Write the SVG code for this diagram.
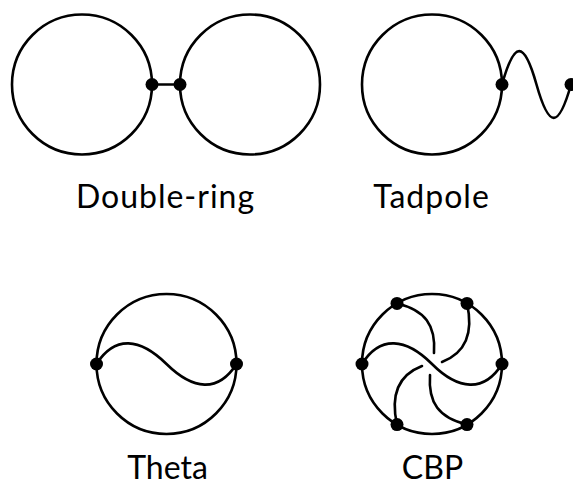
<svg xmlns="http://www.w3.org/2000/svg" width="573" height="486" viewBox="0 0 573 486">
<style>
.ln{fill:none;stroke:#000;stroke-width:2.6;stroke-linecap:round}
.dot{fill:#000}
.lb{font-family:Lato,"Open Sans",sans-serif;font-size:32px;fill:#000;text-anchor:middle}
.wide{letter-spacing:1px}
</style>
<rect width="573" height="486" fill="#fff"/>
<g id="double-ring">
<circle class="ln" cx="82" cy="84.5" r="70"/>
<circle class="ln" cx="250" cy="84.5" r="70"/>
<line class="ln" x1="152" y1="84.5" x2="180" y2="84.5"/>
<circle class="dot" cx="152" cy="84.5" r="6.5"/>
<circle class="dot" cx="180" cy="84.5" r="6.5"/>
<text class="lb wide" x="165.5" y="208">Double-ring</text>
</g>
<g id="tadpole">
<circle class="ln" cx="432" cy="84.5" r="70"/>
<path class="ln" d="M502,84.5 C514.5,40 524,40 536.5,84.5 C549,129 558.5,129 571,84.5"/>
<circle class="dot" cx="502" cy="84.5" r="6.5"/>
<circle class="dot" cx="571" cy="84.5" r="6.5"/>
<text class="lb wide" x="431.5" y="208">Tadpole</text>
</g>
<g id="theta">
<circle class="ln" cx="166.5" cy="364" r="70"/>
<path class="ln" d="M96.5,364 C115,335 140,338 166.5,364 C193,390 218,393 236.5,364"/>
<circle class="dot" cx="96.5" cy="364" r="6.5"/>
<circle class="dot" cx="236.5" cy="364" r="6.5"/>
<text class="lb" x="167.5" y="479">Theta</text>
</g>
<g id="cbp">
<circle class="ln" cx="432" cy="364" r="70"/>
<path class="ln" d="M362,364 C380,335 406,338 432,364 C458,390 484,393 502,364"/>
<path class="ln" d="M397,303.4 C425,310 436,325 434,353"/>
<path class="ln" d="M467,424.6 C439,418 428,403 430,375"/>
<path class="ln" d="M467,303.4 C473,330 468,352 442,362"/>
<path class="ln" d="M397,424.6 C391,398 396,376 422,366"/>
<circle class="dot" cx="362" cy="364" r="6.5"/>
<circle class="dot" cx="502" cy="364" r="6.5"/>
<circle class="dot" cx="397" cy="303.4" r="6.5"/>
<circle class="dot" cx="467" cy="303.4" r="6.5"/>
<circle class="dot" cx="397" cy="424.6" r="6.5"/>
<circle class="dot" cx="467" cy="424.6" r="6.5"/>
<text class="lb" x="432.5" y="479">CBP</text>
</g>
</svg>
